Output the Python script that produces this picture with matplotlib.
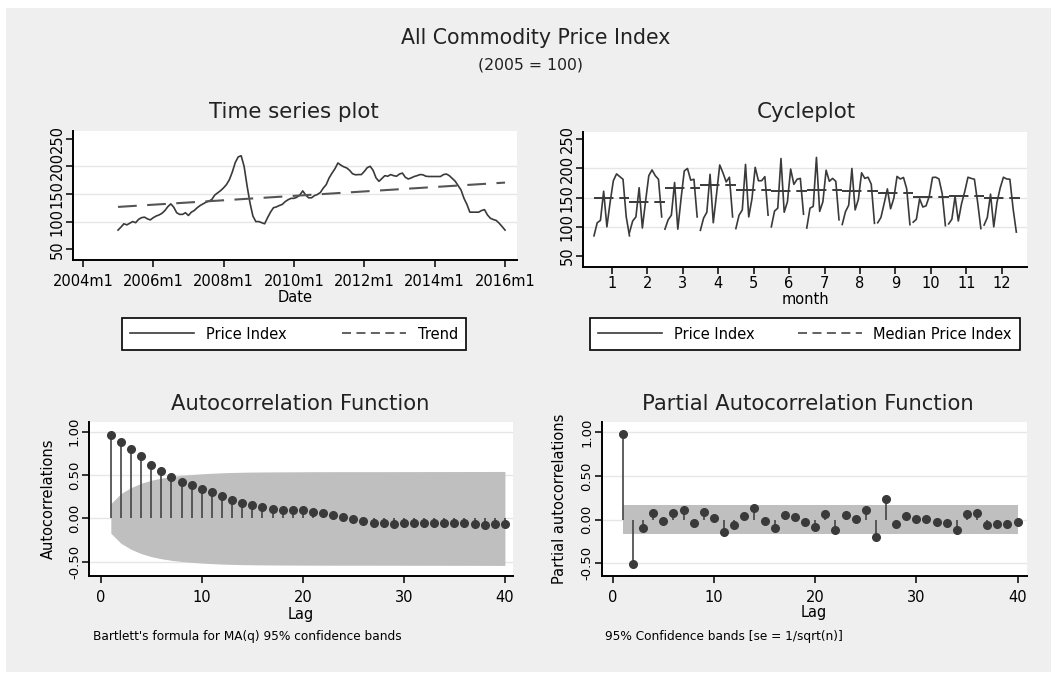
import numpy as np
import matplotlib
matplotlib.use("Agg")
import matplotlib.pyplot as plt
from matplotlib.patches import Rectangle
from matplotlib.lines import Line2D
from matplotlib.ticker import FormatStrFormatter

# ---------------- data ----------------
start_year = 2005
price_index = [
    84.6, 90, 96, 94, 97, 100, 98, 104, 107, 108, 105, 103,            # 2005
    107, 110, 112, 115, 120, 127, 132, 126, 116, 113, 113, 116,         # 2006
    111, 117, 120, 125, 129, 132, 135, 137, 140, 148, 152, 156,         # 2007
    161, 167, 176, 190, 207, 217, 219, 200, 165, 134, 110, 100,         # 2008
    100, 98, 96, 107, 117, 125, 126.5, 129, 131, 136, 139.5, 142,       # 2009
    142, 144, 148, 155.5, 148, 143, 143, 147, 149, 152.5, 160.5, 166.7, # 2010
    179, 187.7, 195.7, 206, 202, 199, 197, 192.6, 186.4, 184.6, 185, 185,  # 2011
    190.7, 197.5, 200, 192.6, 179, 172.8, 178, 183, 182, 185, 183, 182,    # 2012
    186, 187.7, 180, 177, 179, 181.5, 183, 185, 184.6, 182, 181.5, 181.5,  # 2013
    181.5, 181.5, 181.5, 185, 186, 183, 178, 173, 165, 157, 142, 131,      # 2014
    117, 117, 117, 117, 120, 121.6, 112, 106, 103.7, 102, 97, 91,          # 2015
    84.6,                                                                  # 2016m1
]
trend_dates = [2005.0, 2016.0]
trend_values = [126.5, 170.5]

ts_tick_years = [2004, 2006, 2008, 2010, 2012, 2014, 2016]
ts_tick_labels = ["2004m1", "2006m1", "2008m1", "2010m1", "2012m1", "2014m1", "2016m1"]
level_ticks = [50, 100, 150, 200, 250]

months = list(range(1, 13))
cycle_median = [149, 143, 167, 171, 163, 162, 163, 162, 158, 151, 152, 149]

lags = list(range(1, 41))
acf_values = [0.96, 0.876, 0.806, 0.717, 0.62, 0.543, 0.477, 0.419, 0.38, 0.341,
              0.31, 0.26, 0.217, 0.18, 0.155, 0.128, 0.109, 0.10, 0.10, 0.097,
              0.078, 0.058, 0.039, 0.012, -0.008, -0.035, -0.047, -0.058, -0.066, -0.058,
              -0.058, -0.05, -0.05, -0.05, -0.054, -0.054, -0.066, -0.07, -0.066, -0.066]
pacf_values = [0.977, -0.513, -0.095, 0.076, -0.011, 0.076, 0.114, -0.038, 0.084, 0.019,
               -0.144, -0.057, 0.046, 0.129, -0.019, -0.095, 0.049, 0.03, -0.027, -0.087,
               0.065, -0.114, 0.049, 0.011, 0.114, -0.198, 0.24, -0.049, 0.038, 0.011,
               0.011, -0.027, -0.038, -0.114, 0.065, 0.076, -0.057, -0.046, -0.049, -0.027]
corr_ticks = [-0.5, 0.0, 0.5, 1.0]
n_obs = len(price_index)

# ---------------- style ----------------
W, H = 1051, 673
BG = "#efefef"
LINE = "#3a3a3a"
DASH = "#555555"
BAND = "#bfbfbf"
TXT = "#222222"
plt.rcParams["font.family"] = ["DejaVu Sans"]

fig = plt.figure(figsize=(W / 100, H / 100), dpi=100)
fig.patch.set_facecolor("white")
fig.add_artist(Rectangle((6 / W, 1 / H), 1 - 6 / W, (672 - 8) / H,
                         transform=fig.transFigure, facecolor=BG, edgecolor="none", zorder=0))


def rect(l, t, r, b):
    return [l / W, 1 - b / H, (r - l) / W, (b - t) / H]


def style(ax, ylab_size=10.5, xlab_size=10.5, xpad=4, ypad=1):
    ax.set_facecolor("white")
    for s in ["top", "right"]:
        ax.spines[s].set_visible(False)
    for s in ["left", "bottom"]:
        ax.spines[s].set_linewidth(1.4)
        ax.spines[s].set_color("black")
    ax.tick_params(axis="x", length=5, width=1.1, pad=xpad, labelsize=xlab_size, colors="black")
    ax.tick_params(axis="y", length=5, width=1.1, pad=ypad, labelsize=ylab_size, colors="black",
                   labelrotation=90)
    plt.setp(ax.get_yticklabels(), va="center")
    ax.grid(axis="y", color="#e6e6e6", lw=1.0)
    ax.set_axisbelow(True)


# ---------------- time series plot ----------------
t = [start_year + i / 12 for i in range(n_obs)]
ax1 = fig.add_axes(rect(73, 131, 517, 260))
ax1.plot(t, price_index, color=LINE, lw=1.2, zorder=3)
ax1.plot(trend_dates, trend_values, color=DASH, lw=1.5, dashes=(9, 5), zorder=3)
ax1.set_xlim(2003.72, 2016.34)
ax1.set_ylim(30.5, 263.8)
ax1.set_xticks(ts_tick_years)
ax1.set_xticklabels(ts_tick_labels)
ax1.set_yticks(level_ticks)
style(ax1, xpad=5)
gl = ax1.yaxis.get_gridlines()
gl[0].set_visible(False); gl[-1].set_visible(False)
ax1.set_xlabel("Date", fontsize=10.5)
ax1.xaxis.set_label_coords(0.5, -(297 - 260) / 129)
ax1.xaxis.label.set_va("center")

# ---------------- cycleplot ----------------
ax2 = fig.add_axes(rect(583, 131.7, 1027, 266.7))
for m in months:
    vals = price_index[m - 1::12]
    xs = [m + (k - 5.5) / 11 for k in range(len(vals))]
    ax2.plot(xs, vals, color=LINE, lw=1.2, zorder=3)
    ax2.plot([m - 0.5, m + 0.5], [cycle_median[m - 1]] * 2, color=LINE, lw=1.4,
             dashes=(10, 3), zorder=3)
ax2.set_xlim(0.19, 12.71)
ax2.set_ylim(31.7, 263)
ax2.set_xticks(months)
ax2.set_yticks(level_ticks)
style(ax2, xpad=1.5)
gl = ax2.yaxis.get_gridlines()
gl[0].set_visible(False); gl[-1].set_visible(False)
ax2.set_xlabel("month", fontsize=10.5)
ax2.xaxis.set_label_coords(0.5, -(300 - 266.7) / 135)
ax2.xaxis.label.set_va("center")

# ---------------- ACF ----------------
acf_arr = np.array(acf_values)
cum = np.concatenate([[0.0], np.cumsum(acf_arr[:-1] ** 2)])
bart = 1.96 * np.sqrt((1 + 2 * cum) / n_obs)
ax3 = fig.add_axes(rect(89.3, 421.7, 513, 575.7))
ax3.fill_between(lags, -bart, bart, color=BAND, lw=0, zorder=1)
ax3.vlines(lags, 0, acf_values, color="#444444", lw=1.2, zorder=2)
ax3.plot(lags, acf_values, "o", color=LINE, ms=5.5, zorder=3)
ax3.set_xlim(-1.13, 40.8)
ax3.set_ylim(-0.66, 1.115)
ax3.set_xticks([0, 10, 20, 30, 40])
ax3.set_yticks(corr_ticks)
ax3.yaxis.set_major_formatter(FormatStrFormatter("%.2f"))
style(ax3, ylab_size=9.5, xlab_size=10.5, xpad=5)
ax3.set_xlabel("Lag", fontsize=10.5)
ax3.xaxis.set_label_coords(0.5, -(614 - 575.7) / 154)
ax3.xaxis.label.set_va("center")
ax3.set_ylabel("Autocorrelations", fontsize=10.5)
ax3.yaxis.set_label_coords((48 - 89.3) / 423.7, 0.5)
ax3.yaxis.label.set_va("center")

# ---------------- PACF ----------------
pband = 1.96 / np.sqrt(n_obs)
ax4 = fig.add_axes(rect(601.7, 421.7, 1026.7, 575.7))
ax4.fill_between(lags, -pband, pband, color=BAND, lw=0, zorder=1)
ax4.vlines(lags, 0, pacf_values, color="#444444", lw=1.2, zorder=2)
ax4.plot(lags, pacf_values, "o", color=LINE, ms=5.5, zorder=3)
ax4.set_xlim(-1.09, 40.9)
ax4.set_ylim(-0.642, 1.12)
ax4.set_xticks([0, 10, 20, 30, 40])
ax4.set_yticks(corr_ticks)
ax4.yaxis.set_major_formatter(FormatStrFormatter("%.2f"))
style(ax4, ylab_size=9.5, xlab_size=10.5, xpad=5)
ax4.set_xlabel("Lag", fontsize=10.5)
ax4.xaxis.set_label_coords(0.5, -(613 - 575.7) / 154)
ax4.xaxis.label.set_va("center")
ax4.set_ylabel("Partial autocorrelations", fontsize=10.5)
ax4.yaxis.set_label_coords((560 - 601.7) / 425, 0.5)
ax4.yaxis.label.set_va("center")

# ---------------- titles & notes ----------------
fig.text(536 / W, 1 - 44.5 / H, "All Commodity Price Index", ha="center", va="baseline",
         fontsize=14.8, color=TXT)
fig.text(531 / W, 1 - 69 / H, "(2005 = 100)", ha="center", va="baseline", fontsize=11.3,
         color=TXT)
fig.text(294 / W, 1 - 118 / H, "Time series plot", ha="center", va="baseline", fontsize=15.4,
         color=TXT)
fig.text(806 / W, 1 - 118 / H, "Cycleplot", ha="center", va="baseline", fontsize=15.4,
         color=TXT)
fig.text(300 / W, 1 - 410 / H, "Autocorrelation Function", ha="center", va="baseline",
         fontsize=15.2, color=TXT)
fig.text(808 / W, 1 - 410 / H, "Partial Autocorrelation Function", ha="center",
         va="baseline", fontsize=15.2, color=TXT)
fig.text(93 / W, 1 - 636.5 / H, "Bartlett's formula for MA(q) 95% confidence bands",
         ha="left", va="center", fontsize=8.7)
fig.text(605 / W, 1 - 636.5 / H, "95% Confidence bands [se = 1/sqrt(n)]",
         ha="left", va="center", fontsize=8.7)

# ---------------- legends ----------------
def add_legend(labels, l, r, t, b):
    handles = [Line2D([], [], color=LINE, lw=1.2),
               Line2D([], [], color=DASH, lw=1.3, dashes=(5, 3))]
    leg = fig.legend(handles, labels, loc="center",
                     bbox_to_anchor=(l / W, 1 - b / H, (r - l) / W, (b - t) / H),
                     mode="expand", ncol=2, frameon=True, fancybox=False,
                     edgecolor="black", facecolor="white", framealpha=1,
                     handlelength=4.4, handletextpad=0.8, fontsize=10.5,
                     borderpad=0.55, borderaxespad=0)
    leg.get_frame().set_linewidth(1.2)
    return leg

add_legend(["Price Index", "Trend"], 122, 466, 318, 350)
add_legend(["Price Index", "Median Price Index"], 590, 1020, 318, 350)

fig.savefig("out.png", dpi=100, facecolor=fig.get_facecolor())
